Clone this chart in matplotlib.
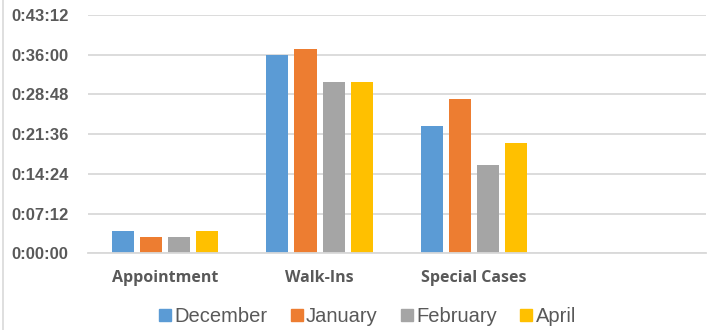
import numpy as np
import matplotlib.pyplot as plt
from matplotlib.ticker import FuncFormatter, MultipleLocator
from matplotlib.lines import Line2D

# average wait times, in seconds
categories = ["Appointment", "Walk-Ins", "Special Cases", ""]
months = ["December", "January", "February", "April"]
december = [240, 2160, 1380]
january = [180, 2220, 1680]
february = [180, 1860, 960]
april = [240, 1860, 1200]
colors = ["#5B9BD5", "#ED7D31", "#A5A5A5", "#FFC000"]

series = [december, january, february, april]
text_col = "#595959"


def hms(v, pos=None):
    v = int(round(v))
    return "%d:%02d:%02d" % (v // 3600, (v % 3600) // 60, v % 60)


fig = plt.figure(figsize=(7.13, 3.30), dpi=100)
ax = fig.add_axes([88 / 713, 76.7 / 330, 617.5 / 713, 238.3 / 330])

x = np.arange(3)
pitch = 0.182
width = 0.143
for j, (vals, c) in enumerate(zip(series, colors)):
    ax.bar(x + (j - 1.5) * pitch, vals, width, color=c, label=months[j], zorder=3)

ax.set_xlim(-0.5, 3.5)
ax.set_ylim(0, 2592)
ax.yaxis.set_major_locator(MultipleLocator(432))
ax.yaxis.set_major_formatter(FuncFormatter(hms))
ax.grid(axis="y", color="#D9D9D9", linewidth=1.3, zorder=0)
for s in ["top", "right", "left"]:
    ax.spines[s].set_visible(False)
ax.spines["bottom"].set_color("#D9D9D9")
ax.spines["bottom"].set_linewidth(1.3)
ax.spines["bottom"].set_zorder(4)

ax.set_xticks(np.arange(4))
ax.set_xticklabels(categories, fontfamily="Open Sans", fontweight="bold",
                   fontsize=11.5, color=text_col)
ax.tick_params(axis="x", length=0, pad=12)
ax.tick_params(axis="y", length=0, pad=14)
for t in ax.get_yticklabels():
    t.set_fontfamily("Liberation Sans")
    t.set_fontweight("bold")
    t.set_fontsize(12)
    t.set_color(text_col)

handles = [Line2D([], [], marker="s", linestyle="none", markersize=9,
                  markerfacecolor=c, markeredgecolor=c) for c in colors]
leg = fig.legend(handles, months, loc="center", bbox_to_anchor=(367 / 713, 1 - 317 / 330),
                 ncol=4, frameon=False, handlelength=0.7, handletextpad=0.12,
                 columnspacing=1.1, prop={"family": "Liberation Sans", "size": 14.5})
for t in leg.get_texts():
    t.set_color(text_col)

# chart frame on the left
fig.add_artist(Line2D([3 / 713, 3 / 713], [0, 1], color="#D9D9D9", linewidth=1.2))

fig.savefig("out.png", dpi=100)
